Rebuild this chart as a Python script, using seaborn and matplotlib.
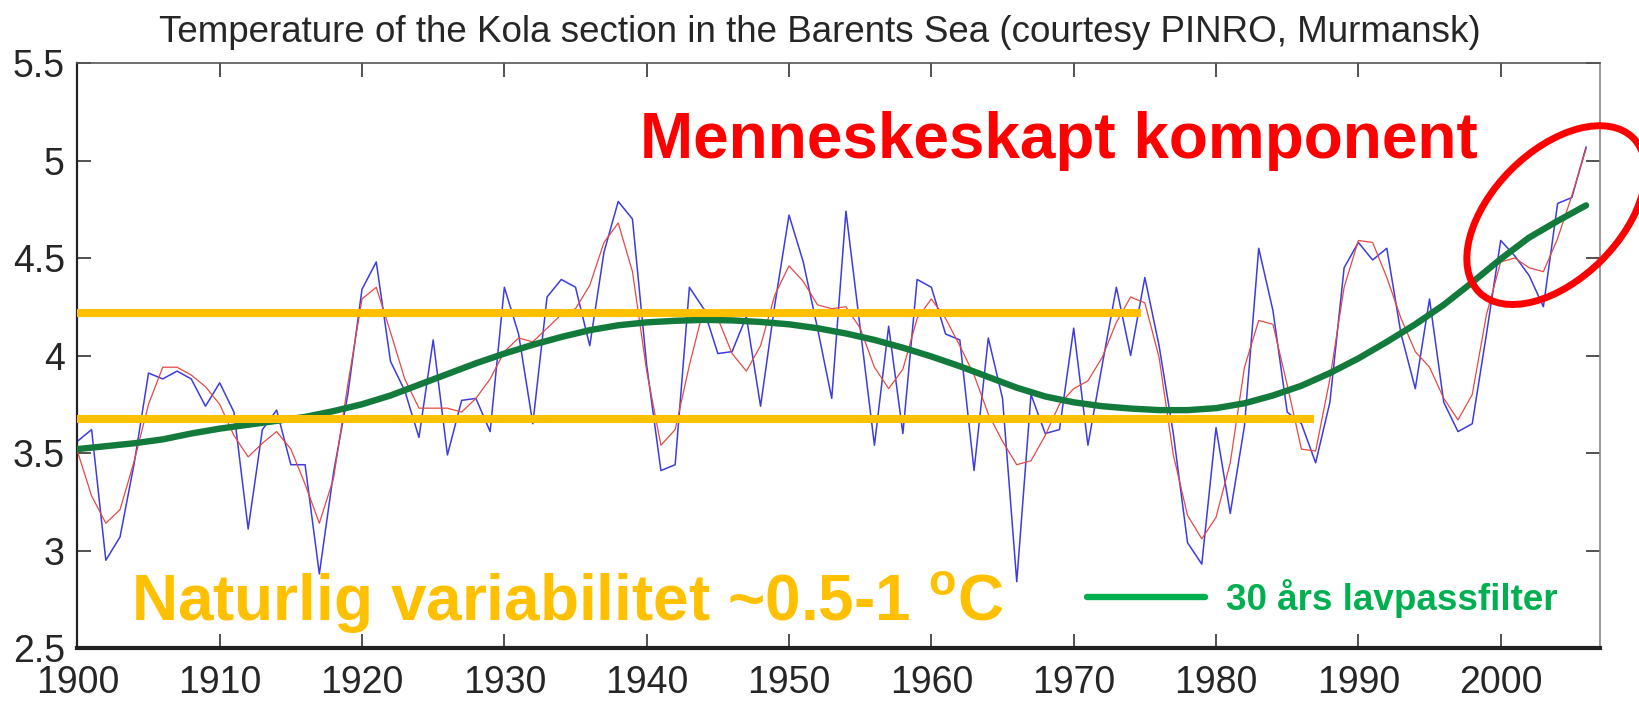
import numpy as np
import pandas as pd
import matplotlib.pyplot as plt
import seaborn as sns
from matplotlib.patches import Ellipse
from matplotlib.transforms import IdentityTransform
from matplotlib.ticker import FormatStrFormatter

# annual Kola section temperature (blue) and smoothed series (red), 1900-2006
years = list(range(1900, 2007))
kola_annual = [
    3.56, 3.62, 2.95, 3.07, 3.45, 3.91, 3.88, 3.92, 3.88, 3.74,
    3.86, 3.71, 3.11, 3.62, 3.72, 3.44, 3.44, 2.88, 3.40, 3.80,
    4.34, 4.48, 3.97, 3.82, 3.58, 4.08, 3.49, 3.77, 3.78, 3.61,
    4.35, 4.11, 3.65, 4.30, 4.39, 4.35, 4.05, 4.53, 4.79, 4.70,
    3.95, 3.41, 3.44, 4.35, 4.24, 4.01, 4.02, 4.20, 3.74, 4.26,
    4.72, 4.48, 4.14, 3.78, 4.74, 4.14, 3.54, 4.15, 3.60, 4.39,
    4.35, 4.11, 4.08, 3.41, 4.09, 3.78, 2.84, 3.80, 3.60, 3.62,
    4.14, 3.54, 3.95, 4.35, 4.00, 4.40, 4.05, 3.60, 3.04, 2.93,
    3.63, 3.19, 3.64, 4.55, 4.23, 3.71, 3.65, 3.45, 3.76, 4.45,
    4.58, 4.49, 4.55, 4.11, 3.83, 4.29, 3.76, 3.61, 3.65, 4.11,
    4.59, 4.51, 4.41, 4.25, 4.78, 4.81, 5.07,
]
kola_smooth = [
    3.51, 3.28, 3.14, 3.21, 3.46, 3.75, 3.94, 3.94, 3.90, 3.84,
    3.75, 3.59, 3.48, 3.55, 3.61, 3.52, 3.34, 3.14, 3.37, 3.85,
    4.29, 4.35, 4.12, 3.88, 3.73, 3.73, 3.73, 3.71, 3.78, 3.88,
    4.02, 4.09, 4.07, 4.14, 4.21, 4.24, 4.36, 4.58, 4.68, 4.43,
    3.92, 3.54, 3.62, 3.95, 4.24, 4.19, 4.01, 3.92, 4.05, 4.31,
    4.46, 4.38, 4.26, 4.24, 4.25, 4.14, 3.94, 3.83, 3.93, 4.19,
    4.29, 4.19, 4.05, 3.90, 3.70, 3.56, 3.44, 3.46, 3.59, 3.75,
    3.83, 3.87, 3.99, 4.17, 4.30, 4.27, 3.99, 3.49, 3.18, 3.06,
    3.17, 3.45, 3.94, 4.18, 4.16, 3.85, 3.52, 3.51, 3.88, 4.35,
    4.59, 4.58, 4.40, 4.19, 4.02, 3.94, 3.78, 3.67, 3.80, 4.21,
    4.48, 4.50, 4.45, 4.43, 4.60, 4.82, 5.06,
]

# 30 year low-pass filter (green)
lowpass_years = list(range(1900, 2007, 2))
lowpass_30yr = [
    3.52, 3.535, 3.55, 3.57, 3.60, 3.625, 3.645, 3.665, 3.685, 3.715,
    3.75, 3.795, 3.85, 3.905, 3.96, 4.01, 4.055, 4.095, 4.13, 4.155,
    4.17, 4.178, 4.183, 4.18, 4.172, 4.16, 4.14, 4.113, 4.08, 4.04,
    3.995, 3.945, 3.89, 3.835, 3.79, 3.76, 3.74, 3.728, 3.72, 3.72,
    3.73, 3.755, 3.795, 3.845, 3.91, 3.985, 4.07, 4.16, 4.26, 4.375,
    4.495, 4.605, 4.69, 4.77,
]

# natural variability band (yellow lines)
band_levels = [4.22, 3.675]
band_start = 1900
band_ends = [1974.7, 1986.9]

x_ticks = list(range(1900, 2001, 10))
y_ticks = [2.5, 3, 3.5, 4, 4.5, 5, 5.5]

df = pd.DataFrame({'year': years, 'annual': kola_annual, 'smooth': kola_smooth})
lp = pd.DataFrame({'year': lowpass_years, 'lowpass': lowpass_30yr})

sns.set_style('ticks')
plt.rcParams['font.family'] = ['Liberation Sans', 'DejaVu Sans']
plt.rcParams['mathtext.fontset'] = 'custom'
plt.rcParams['mathtext.rm'] = 'Liberation Sans'
plt.rcParams['mathtext.bf'] = 'Liberation Sans:bold'

fig = plt.figure(figsize=(16.39, 7.01), dpi=100)
ax = fig.add_axes([0.0472, 0.0756, 0.9292, 0.8345])

sns.lineplot(data=df, x='year', y='annual', color='#3c3ce0', linewidth=1.1, ax=ax, zorder=2)
sns.lineplot(data=df, x='year', y='smooth', color='#e24a46', linewidth=0.9, ax=ax, zorder=3)
line_kw = dict(solid_joinstyle='round', solid_capstyle='round')
sns.lineplot(data=lp, x='year', y='lowpass', color='#127a3b', linewidth=4.6, ax=ax,
             zorder=4, label='30 års lavpassfilter', **line_kw)

for lvl, end in zip(band_levels, band_ends):
    ax.hlines(lvl, band_start, end, color='#FFC000', linewidth=5.8, zorder=5)

ax.set_xlim(1900, 2007)
ax.set_ylim(2.5, 5.5)
ax.set_xticks(x_ticks)
ax.set_yticks(y_ticks)
ax.yaxis.set_major_formatter(FormatStrFormatter('%g'))
ax.set_xlabel('')
ax.set_ylabel('')
ax.tick_params(direction='in', length=10, width=1.2, color='#333333',
               top=True, right=True)
ax.tick_params(axis='x', pad=12)
ax.tick_params(axis='y', pad=9)
tick_font = ['Liberation Sans Narrow', 'Liberation Sans', 'DejaVu Sans']
for lab in ax.get_xticklabels():
    lab.set_family(tick_font)
    lab.set_fontsize(27)
for lab in ax.get_yticklabels():
    lab.set_family(tick_font)
    lab.set_fontsize(27)
for side, lw, col in [('bottom', 3.0, '#222222'), ('left', 1.6, '#222222'),
                      ('top', 1.2, '#555555'), ('right', 1.2, '#888888')]:
    ax.spines[side].set_linewidth(lw)
    ax.spines[side].set_color(col)

fig.text(0.5, 1 - 32 / 701, 'Temperature of the Kola section in the Barents Sea (courtesy PINRO, Murmansk)',
         ha='center', va='center', fontsize=26.5)

ax.text(1939.5, 5.015, 'Menneskeskapt komponent', color='#FF0000', fontsize=46,
        fontweight='bold', ha='left', va='baseline', zorder=6)
ax.text(1903.8, 2.646, r'Naturlig variabilitet ~0.5-1 $^{\mathbf{o}}$C', color='#FFC000',
        fontsize=46, fontweight='bold', ha='left', va='baseline', zorder=6)

leg = ax.legend(loc='center left', bbox_to_anchor=(0.663, 0.084), frameon=False,
                handlelength=3.2, handletextpad=0.58, borderpad=0, borderaxespad=0,
                prop={'weight': 'bold', 'size': 26.5}, labelcolor='#00B050')
for h in leg.get_lines():
    h.set_color('#00B050')
    h.set_linewidth(4.6)

# ellipse around the most recent years
cx, cy = ax.transData.transform((2003.9, 4.72))
ring = Ellipse((cx, cy), width=218, height=128, angle=45, transform=IdentityTransform(),
               fill=False, edgecolor='#FF0000', linewidth=5, clip_on=False, zorder=7)
fig.add_artist(ring)

fig.savefig('out.png', dpi=100)
